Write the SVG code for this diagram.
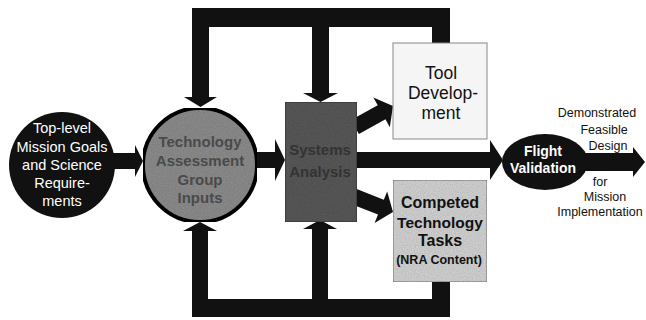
<svg xmlns="http://www.w3.org/2000/svg" width="646" height="320" viewBox="0 0 646 320">
<defs>
<style>
.conn{fill:#111;stroke:none}
.t{font-family:"Liberation Sans",Arial,sans-serif;text-anchor:middle}
.wt{fill:#fff}
.bk{fill:#111}
</style>
<filter id="grain" x="0" y="0" width="100%" height="100%">
<feTurbulence type="fractalNoise" baseFrequency="0.9" numOctaves="2" seed="3" result="n"/>
<feColorMatrix in="n" type="matrix" values="0 0 0 0 0  0 0 0 0 0  0 0 0 0 0  0 0 0 0.35 0" result="a"/>
<feComposite in="a" in2="SourceGraphic" operator="in" result="g"/>
<feMerge><feMergeNode in="SourceGraphic"/><feMergeNode in="g"/></feMerge>
</filter>
</defs>
<rect width="646" height="320" fill="#fff"/>
<g id="connectors">
<path class="conn" d="M192,8 H450 V44 H432 V27 H329 V93 H338 L320.5,102 L303,93 H312 V27 H209 V97 H217 L200.5,107 L184,97 H192 Z"/>
<path class="conn" d="M192,317 H450 V281 H432 V299 H328 V229 H337 L320,220 L303,229 H312 V299 H208 V231 H217 L200,222 L183,231 H192 Z"/>
<polygon class="conn" points="110,153 135,153 135,145 143,161 135,177 135,169 110,169"/>
<polygon class="conn" points="252,152 275,152 275,139 285,160 275,181 275,168 252,168"/>
<polygon class="conn" points="352.9,187.6 383.8,199.8 387.2,191.4 393,212 374.6,223 378,214.6 347.1,202.4"/>
<polygon class="conn" points="351.1,120 377.7,105.3 373.4,97.4 393,106 389.8,127.2 385.5,119.3 358.9,134"/>
<polygon class="conn" points="355,152 490,152 490,140 503,160 490,180 490,168 355,168"/>
<polygon class="conn" points="580,153 633,153 633,147 645,162 633,177 633,171 580,171"/>
</g>
<g id="node-goals">
<circle cx="62" cy="165" r="53" fill="#111"/>
<text class="t wt" font-size="14.5" x="62" y="133">Top-level</text>
<text class="t wt" font-size="14.5" x="62" y="152">Mission Goals</text>
<text class="t wt" font-size="14.5" x="62" y="170">and Science</text>
<text class="t wt" font-size="14.5" x="62" y="188">Require-</text>
<text class="t wt" font-size="14.5" x="62" y="206">ments</text>
</g>
<g id="node-techgroup">
<circle cx="200" cy="165" r="57" fill="#919191" stroke="#111" stroke-width="4" filter="url(#grain)"/>
<text class="t" fill="#4a4a4a" font-weight="bold" font-size="15" x="200" y="147">Technology</text>
<text class="t" fill="#4a4a4a" font-weight="bold" font-size="15" x="200" y="166">Assessment</text>
<text class="t" fill="#4a4a4a" font-weight="bold" font-size="15" x="200" y="185">Group</text>
<text class="t" fill="#4a4a4a" font-weight="bold" font-size="15" x="200" y="203">Inputs</text>
</g>
<g id="node-systems">
<rect x="285" y="102" width="72" height="120" fill="#5c5c5c" stroke="#333" stroke-width="1" filter="url(#grain)"/>
<text class="t" fill="#333" font-weight="bold" font-size="15" x="320" y="155">Systems</text>
<text class="t" fill="#333" font-weight="bold" font-size="15" x="320" y="177">Analysis</text>
</g>
<g id="node-tool">
<rect x="393" y="43" width="94" height="96" fill="#f5f5f5" stroke="#888" stroke-width="1"/>
<text class="t bk" font-size="17.5" x="441" y="79">Tool</text>
<text class="t bk" font-size="17.5" x="443" y="99">Develop-</text>
<text class="t bk" font-size="17.5" x="441" y="119">ment</text>
</g>
<g id="node-competed">
<rect x="393" y="180" width="94" height="102" fill="#d9d9d9" stroke="#777" stroke-width="1" filter="url(#grain)"/>
<text class="t bk" font-weight="bold" font-size="16" x="440" y="208">Competed</text>
<text class="t bk" font-weight="bold" font-size="15.5" x="440" y="228">Technology</text>
<text class="t bk" font-weight="bold" font-size="16" x="440" y="246">Tasks</text>
<text class="t bk" font-weight="bold" font-size="12.5" x="439" y="264">(NRA Content)</text>
</g>
<g id="node-flight">
<ellipse cx="545" cy="162" rx="43" ry="28" fill="#111"/>
<text class="t wt" font-weight="bold" font-size="14" x="543" y="156">Flight</text>
<text class="t wt" font-weight="bold" font-size="14" x="543" y="173">Validation</text>
</g>
<g id="output-label">
<text class="t bk" font-size="12.5" x="597" y="117">Demonstrated</text>
<text class="t bk" font-size="12.5" x="604" y="134">Feasible</text>
<text class="t bk" font-size="12.5" x="608" y="150">Design</text>
<text class="t bk" font-size="12.5" x="600" y="186">for</text>
<text class="t bk" font-size="12.5" x="605" y="201">Mission</text>
<text class="t bk" font-size="12.5" x="600" y="216">Implementation</text>
</g>
</svg>
